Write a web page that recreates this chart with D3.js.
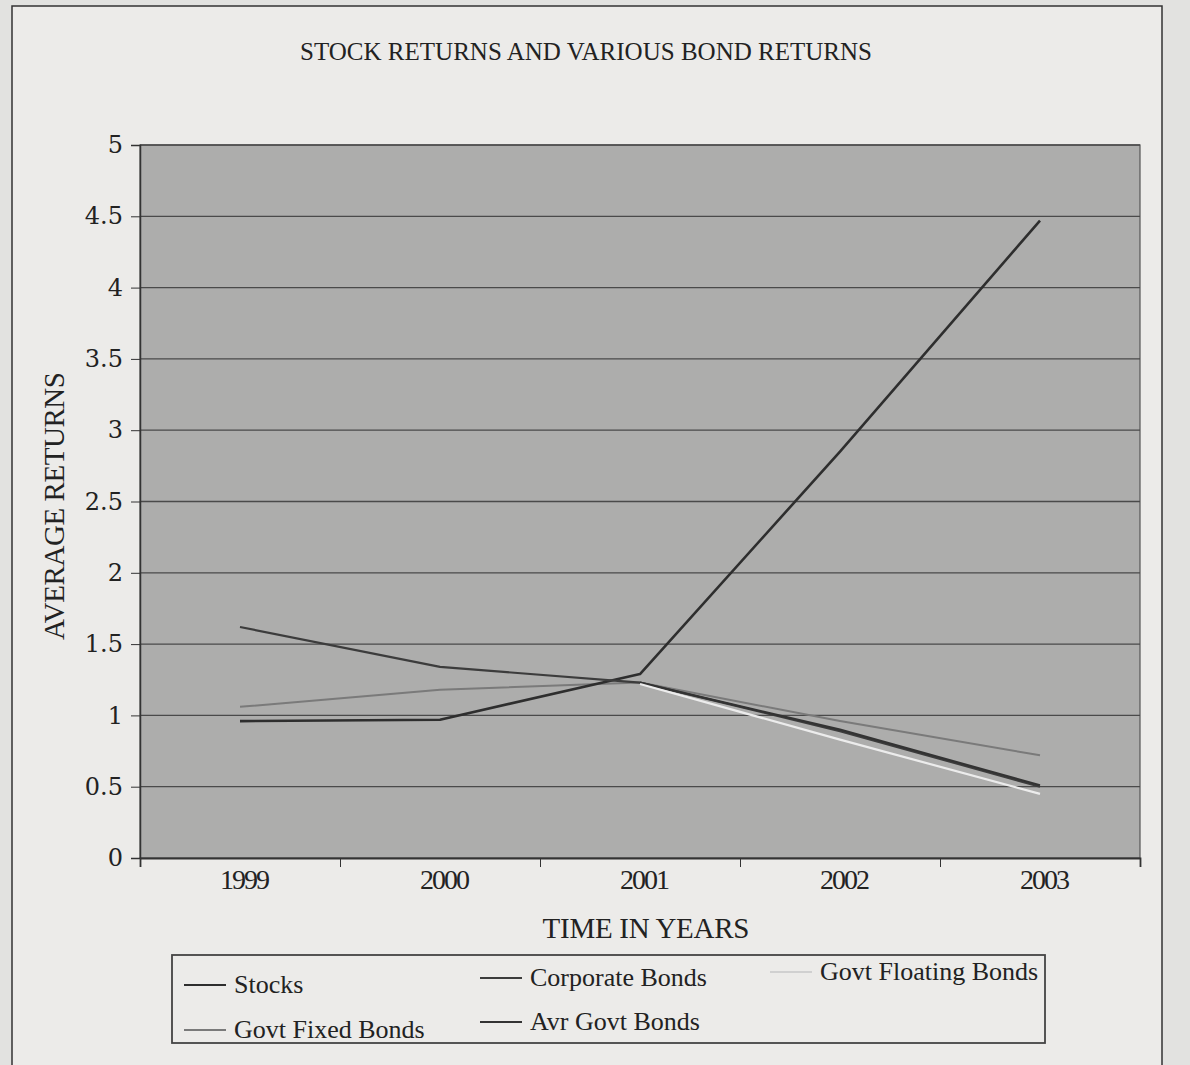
<!DOCTYPE html>
<html>
<head>
<meta charset="utf-8">
<script src="https://cdn.jsdelivr.net/npm/d3@7"></script>
<style>
  body { margin: 0; background: #e2e2e0; }
  text { font-family: "Liberation Serif", "DejaVu Serif", serif; fill: #222; }
</style>
</head>
<body>
<div id="plot"></div>
<script>
// Data
const years = ["1999", "2000", "2001", "2002", "2003"];
const stocks = [0.96, 0.97, 1.29, 2.85, 4.47];
const corporateBonds = [1.62, 1.34, 1.23, 0.89, 0.50];
const govtFloatingBonds = [null, null, 1.22, 0.83, 0.45];
const govtFixedBonds = [1.06, 1.18, 1.23, 0.96, 0.72];
const avrGovtBonds = [null, null, 1.23, 0.90, 0.51];
const yTicks = [0, 0.5, 1, 1.5, 2, 2.5, 3, 3.5, 4, 4.5, 5];

const width = 1190;
const height = 1065;
const margin = {top: 145, right: 50, bottom: 207, left: 140};

const series = [
  {name: "Stocks", values: stocks, color: "#2e2e2e", w: 2.6},
  {name: "Corporate Bonds", values: corporateBonds, color: "#3c3c3c", w: 2.2},
  {name: "Govt Floating Bonds", values: govtFloatingBonds, color: "#ececec", w: 2.2},
  {name: "Govt Fixed Bonds", values: govtFixedBonds, color: "#7a7a7a", w: 2},
  {name: "Avr Govt Bonds", values: avrGovtBonds, color: "#333333", w: 2.2}
];

const svg = d3.select("#plot")
  .append("svg")
  .attr("width", width)
  .attr("height", height);

// Chart frame
svg.append("path")
  .attr("d", `M12,${height} L12,6 L1162,6 L1162,${height}`)
  .attr("fill", "#ecebe9")
  .attr("stroke", "#333")
  .attr("stroke-width", 1.5);

// Scales
const x = d3.scaleLinear()
  .domain([0, years.length])
  .range([margin.left, width - margin.right]);

const y = d3.scaleLinear()
  .domain([0, 5])
  .range([height - margin.bottom, margin.top]);

// Plot area
svg.append("rect")
  .attr("x", x(0))
  .attr("y", y(5))
  .attr("width", x(years.length) - x(0))
  .attr("height", y(0) - y(5))
  .attr("fill", "#adadac")
  .attr("stroke", "#555")
  .attr("stroke-width", 1.2);

// Gridlines
svg.append("g")
  .selectAll("line")
  .data(yTicks.filter(d => d > 0))
  .join("line")
  .attr("x1", x(0))
  .attr("x2", x(years.length))
  .attr("y1", d => y(d))
  .attr("y2", d => y(d))
  .attr("stroke", "#4a4a4a")
  .attr("stroke-width", 1.3);

// Y axis
const yAxis = svg.append("g")
  .attr("transform", `translate(${x(0)},0)`)
  .call(d3.axisLeft(y).tickValues(yTicks).tickSize(9).tickPadding(8)
    .tickFormat(d => String(+d.toFixed(1))));
yAxis.select(".domain").attr("stroke", "#333").attr("stroke-width", 1.5);
yAxis.selectAll(".tick line").attr("stroke", "#333");
yAxis.selectAll(".tick text")
  .style("font-family", "'DejaVu Serif', serif")
  .style("font-size", "24px")
  .attr("fill", "#2a2a2a");

// X axis (ticks between categories)
const xAxis = svg.append("g")
  .attr("transform", `translate(0,${y(0)})`)
  .call(d3.axisBottom(x).tickValues(d3.range(years.length + 1)).tickSize(9).tickFormat(""));
xAxis.select(".domain").attr("stroke", "#333").attr("stroke-width", 1.8);
xAxis.selectAll(".tick line").attr("stroke", "#333");

svg.append("g")
  .selectAll("text")
  .data(years)
  .join("text")
  .attr("x", (d, i) => x(i + 0.5) + 5)
  .attr("y", y(0) + 31)
  .attr("text-anchor", "middle")
  .attr("textLength", 50)
  .style("font-size", "28px")
  .text(d => d);

// Axis titles
svg.append("text")
  .attr("x", 646)
  .attr("y", 938)
  .attr("text-anchor", "middle")
  .attr("textLength", 207)
  .style("font-size", "29px")
  .text("TIME IN YEARS");

svg.append("text")
  .attr("transform", "translate(64,506) rotate(-90)")
  .attr("text-anchor", "middle")
  .attr("textLength", 268)
  .style("font-size", "29px")
  .text("AVERAGE RETURNS");

// Title
svg.append("text")
  .attr("x", 586)
  .attr("y", 60)
  .attr("text-anchor", "middle")
  .attr("textLength", 572)
  .style("font-size", "25px")
  .text("STOCK RETURNS AND VARIOUS BOND RETURNS");

// Lines
const line = d3.line()
  .defined(d => d != null)
  .x((d, i) => x(i + 0.5))
  .y(d => y(d));

const drawOrder = [3, 0, 1, 4, 2];
svg.append("g")
  .selectAll("path")
  .data(drawOrder.map(i => series[i]))
  .join("path")
  .attr("d", d => line(d.values))
  .attr("fill", "none")
  .attr("stroke", d => d.color)
  .attr("stroke-width", d => d.w)
  .attr("stroke-linejoin", "round");

// Legend
const legend = svg.append("g");
legend.append("rect")
  .attr("x", 172)
  .attr("y", 955)
  .attr("width", 873)
  .attr("height", 88)
  .attr("fill", "none")
  .attr("stroke", "#444")
  .attr("stroke-width", 1.8);

const legendPos = [
  {x: 184, y: 985},
  {x: 480, y: 978},
  {x: 770, y: 972},
  {x: 184, y: 1030},
  {x: 480, y: 1022}
];

const items = legend.selectAll("g.item")
  .data(series)
  .join("g")
  .attr("class", "item")
  .attr("transform", (d, i) => `translate(${legendPos[i].x},${legendPos[i].y})`);

items.append("line")
  .attr("x1", 0)
  .attr("x2", 42)
  .attr("y1", 0)
  .attr("y2", 0)
  .attr("stroke", d => d.name === "Govt Floating Bonds" ? "#d0d0d0" : d.color)
  .attr("stroke-width", 2);

items.append("text")
  .attr("x", 50)
  .attr("y", 8)
  .style("font-size", "26px")
  .text(d => d.name);
</script>
</body>
</html>
